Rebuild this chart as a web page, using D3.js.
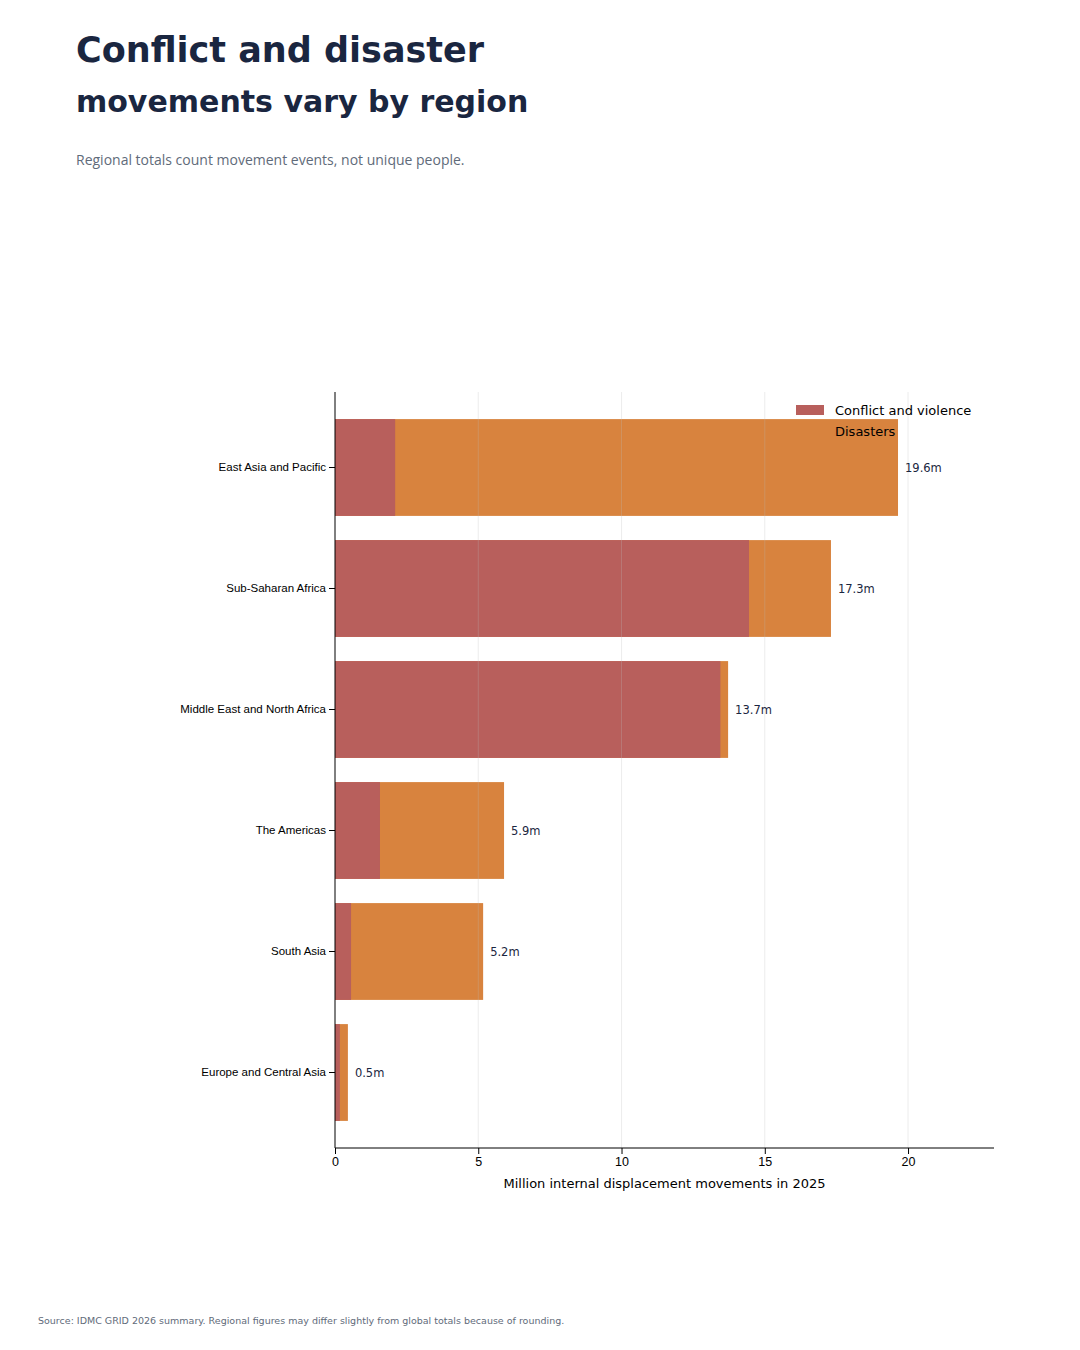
<!DOCTYPE html>
<html><head><meta charset="utf-8">
<script src="https://cdn.jsdelivr.net/npm/d3@7"></script>
<style>body{margin:0;background:#fff;font-family:"DejaVu Sans",sans-serif}</style>
</head><body><svg id="chart"></svg>
<script>
const regions = ['East Asia and Pacific','Sub-Saharan Africa','Middle East and North Africa','The Americas','South Asia','Europe and Central Asia'];
const conflict = [2.1, 14.45, 13.45, 1.57, 0.56, 0.17];
const totals = [19.65, 17.31, 13.72, 5.9, 5.17, 0.45];
const totalLabels = ['19.6m','17.3m','13.7m','5.9m','5.2m','0.5m'];
const xTicks = [0, 5, 10, 15, 20];

const svg = d3.select('#chart').attr('width', 1080).attr('height', 1350);
const plotLeft = 335, plotRight = 994, plotTop = 392, plotBottom = 1148;
const x = d3.scaleLinear().domain([0, 23]).range([plotLeft, plotRight]);
const y = d3.scaleBand().domain(regions).range([plotTop + 15, plotBottom - 15]).paddingInner(0.2).paddingOuter(0.1);

svg.append('text').attr('x', 76).attr('y', 62).attr('font-size', 35).attr('font-weight', 'bold').attr('fill', '#1a2640').text('Conflict and disaster');
svg.append('text').attr('x', 76).attr('y', 112).attr('font-size', 30).attr('font-weight', 'bold').attr('fill', '#1a2640').text('movements vary by region');
svg.append('text').attr('x', 76).attr('y', 165).attr('font-size', 14).attr('fill', '#5f6b7a').attr('font-family', 'Open Sans, sans-serif').text('Regional totals count movement events, not unique people.');
svg.append('text').attr('x', 38).attr('y', 1324).attr('font-size', 9.5).attr('fill', '#5f6b7a').text('Source: IDMC GRID 2026 summary. Regional figures may differ slightly from global totals because of rounding.');

// legend swatches (disasters swatch ends up beneath the bar)
svg.append('rect').attr('x', 796).attr('y', 405).attr('width', 28).attr('height', 10).attr('fill', '#b85f5c');
svg.append('rect').attr('x', 796).attr('y', 426).attr('width', 28).attr('height', 10).attr('fill', '#d8833e');

svg.selectAll('.dis').data(regions).enter().append('rect')
  .attr('x', x(0)).attr('y', d => y(d)).attr('height', y.bandwidth())
  .attr('width', (d, i) => x(totals[i]) - x(0)).attr('fill', '#d8833e');
svg.selectAll('.con').data(regions).enter().append('rect')
  .attr('x', x(0)).attr('y', d => y(d)).attr('height', y.bandwidth())
  .attr('width', (d, i) => x(conflict[i]) - x(0)).attr('fill', '#b85f5c');

svg.selectAll('.grid').data(xTicks.slice(1)).enter().append('line')
  .attr('x1', d => x(d)).attr('x2', d => x(d)).attr('y1', plotTop).attr('y2', plotBottom)
  .attr('stroke', '#bbb').attr('stroke-opacity', 0.35).attr('stroke-width', 0.8);

svg.selectAll('.val').data(regions).enter().append('text')
  .attr('x', (d, i) => x(totals[i]) + 7).attr('y', d => y(d) + y.bandwidth() / 2 + 4)
  .attr('font-size', 11.5).attr('fill', '#1a2640').text((d, i) => totalLabels[i]);

svg.append('g').attr('transform', `translate(0,${plotBottom})`)
  .call(d3.axisBottom(x).tickValues(xTicks).tickSizeOuter(0))
  .call(g => g.select('.domain').attr('d', `M${plotLeft},0H${plotRight}`))
  .call(g => g.selectAll('text').attr('font-size', 12.5).attr('fill', '#000'));
svg.append('g').attr('transform', `translate(${plotLeft},0)`)
  .call(d3.axisLeft(y).tickSizeOuter(0))
  .call(g => g.select('.domain').attr('d', `M0,${plotTop}V${plotBottom}`))
  .call(g => g.selectAll('text').attr('font-size', 11.5).attr('fill', '#000'));

svg.append('text').attr('x', (plotLeft + plotRight) / 2).attr('y', 1188).attr('text-anchor', 'middle')
  .attr('font-size', 13).text('Million internal displacement movements in 2025');

svg.append('text').attr('x', 835).attr('y', 415).attr('font-size', 13).text('Conflict and violence');
svg.append('text').attr('x', 835).attr('y', 436).attr('font-size', 13).text('Disasters');
</script></body></html>
